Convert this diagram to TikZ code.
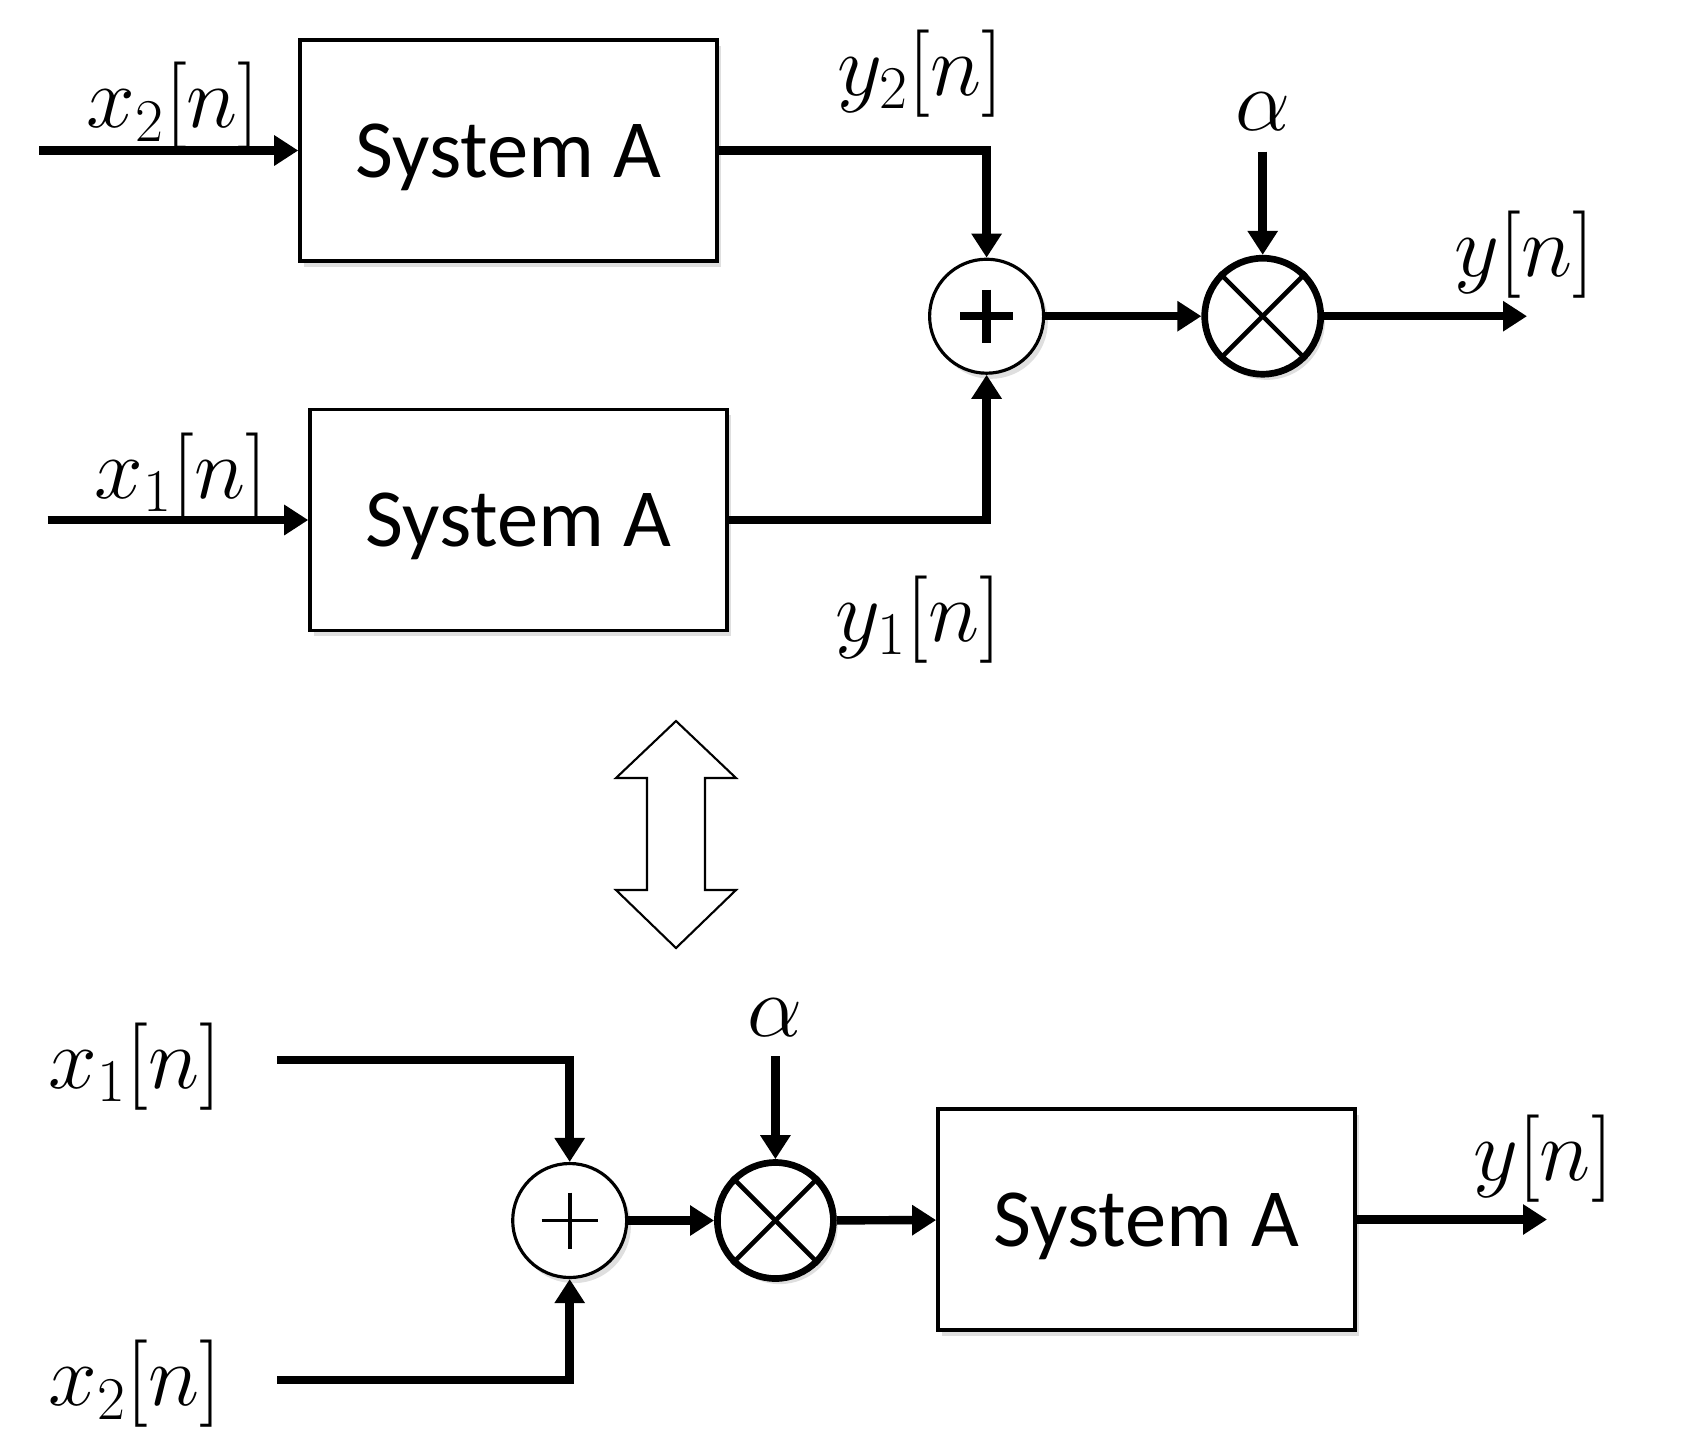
\documentclass[tikz,border=0pt]{standalone}
\usepackage{fontspec}
\newfontfamily\boxfont{Carlito}
\usetikzlibrary{arrows.meta,shadows}
\newlength{\du}
\setlength{\du}{1mm}

\begin{document}
\begin{tikzpicture}[
  sysbox/.style={draw,line width=1pt,fill=white,minimum width=41.7\du,minimum height=22.1\du,inner sep=0pt,text depth=0pt,
    font=\boxfont\fontsize{23.5}{28}\selectfont,drop shadow={opacity=0.25,shadow xshift=1.2pt,shadow yshift=-1.6pt}},
  sumnode/.style={circle,draw,line width=0.9pt,fill=white,minimum size=11.4\du,inner sep=0pt,
    drop shadow={opacity=0.25,shadow xshift=1.2pt,shadow yshift=-1.6pt}},
  mulnode/.style={circle,draw,line width=1.9pt,fill=white,minimum size=11.6\du,inner sep=0pt,
    drop shadow={opacity=0.25,shadow xshift=1.2pt,shadow yshift=-1.6pt}},
  wire/.style={line width=2.4pt},
  sig/.style={wire,-{Triangle[length=2.4mm,width=2.9mm]}},
  lbl/.style={inner sep=0pt,font=\fontsize{24}{29}\selectfont},
]
\pgftransformxscale{1.000000}
\pgftransformyscale{-1.000000}
\useasboundingbox (0\du,0\du) rectangle (169.8\du,144.6\du);
% top: two systems, then sum and gain
\node[sysbox] (sysA2) at (50.85\du,15.05\du) {System A};
\node[sysbox] (sysA1) at (51.85\du,52.0\du) {System A};
\node[sumnode] (sumT) at (98.66\du,31.62\du) {};
\node[mulnode] (mulT) at (126.27\du,31.62\du) {};
\draw[line width=2.4pt] ([xshift=-2.65\du]sumT.center) -- ([xshift=2.65\du]sumT.center);
\draw[line width=2.4pt] ([yshift=-2.65\du]sumT.center) -- ([yshift=2.65\du]sumT.center);
\draw[line width=1.3pt] (mulT.north west) -- (mulT.south east);
\draw[line width=1.3pt] (mulT.north east) -- (mulT.south west);
\coordinate (inT2) at (3.9\du,15.05\du);
\coordinate (inT1) at (4.77\du,52.0\du);
\coordinate (gainT) at (126.27\du,15.16\du);
\coordinate (outT) at (152.7\du,31.62\du);
\draw[sig] (inT2) -- (sysA2.west);
\draw[sig] (inT1) -- (sysA1.west);
\draw[sig] (sysA2.east) -| (sumT.north);
\draw[sig] (sysA1.east) -| (sumT.south);
\draw[sig] (sumT) -- (mulT);
\draw[sig] (gainT) -- (mulT.north);
\draw[sig] (mulT) -- (outT);
% labels
\node[lbl] (lx2T) at (17.33\du,10.61\du) {$x_2[n]$};
\node[lbl] (lx1T) at (18.09\du,47.65\du) {$x_1[n]$};
\node[lbl] (ly2T) at (92.05\du,7.36\du) {$y_2[n]$};
\node[lbl] (ly1T) at (91.84\du,61.95\du) {$y_1[n]$};
\node[lbl] (laT) at (126.27\du,11.15\du) {$\alpha$};
\node[lbl] (lyT) at (152.48\du,25.45\du) {$y[n]$};
% equivalence arrow
\draw[line width=0.6pt,fill=white] (67.6\du,72.1\du) -- (73.6\du,77.8\du) -- (70.5\du,77.8\du)
  -- (70.5\du,89.0\du) -- (73.6\du,89.0\du) -- (67.6\du,94.8\du) -- (61.6\du,89.0\du)
  -- (64.7\du,89.0\du) -- (64.7\du,77.8\du) -- (61.6\du,77.8\du) -- cycle;
% bottom: sum and gain first, then the system
\node[sumnode] (sumB) at (56.97\du,122.05\du) {};
\node[mulnode] (mulB) at (77.54\du,122.05\du) {};
\node[sysbox] (sysB) at (114.64\du,121.95\du) {System A};
\draw[line width=1.1pt] ([xshift=-2.8\du]sumB.center) -- ([xshift=2.8\du]sumB.center);
\draw[line width=1.1pt] ([yshift=-2.8\du]sumB.center) -- ([yshift=2.8\du]sumB.center);
\draw[line width=1.3pt] (mulB.north west) -- (mulB.south east);
\draw[line width=1.3pt] (mulB.north east) -- (mulB.south west);
\coordinate (inB1) at (27.7\du,106.0\du);
\coordinate (inB2) at (27.7\du,138.0\du);
\coordinate (gainB) at (77.54\du,105.6\du);
\coordinate (outB) at (154.7\du,121.95\du);
\draw[sig] (inB1) -| (sumB.north);
\draw[sig] (inB2) -| (sumB.south);
\draw[sig] (sumB) -- (mulB);
\draw[sig] (gainB) -- (mulB.north);
\draw[sig] (mulB) -- (sysB);
\draw[sig] (sysB) -- (outB);
\node[lbl] (lx1B) at (13.5\du,106.7\du) {$x_1[n]$};
\node[lbl] (lx2B) at (13.5\du,138.4\du) {$x_2[n]$};
\node[lbl] (laB) at (77.54\du,101.8\du) {$\alpha$};
\node[lbl] (lyB) at (154.3\du,115.9\du) {$y[n]$};
\end{tikzpicture}
\end{document}
